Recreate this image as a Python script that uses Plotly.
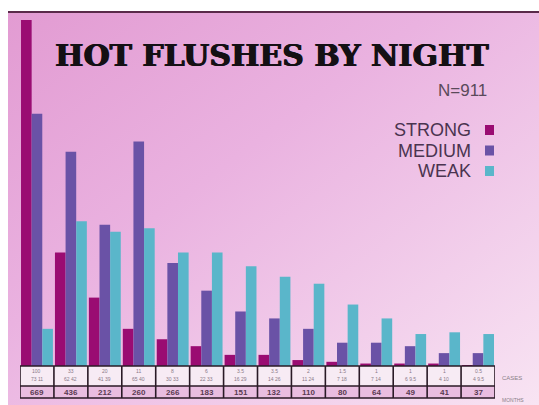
import base64
import plotly.graph_objects as go

# ---- data ----
months = list(range(1, 15))
strong = [100, 33, 20, 11, 8, 6, 3.5, 3.5, 2, 1.5, 1, 1, 1, 0.5]
medium = [73, 62, 41, 65, 30, 22, 16, 14, 11, 7, 7, 6, 4, 4]
weak = [11, 42, 39, 40, 33, 33, 29, 26, 24, 18, 14, 9.5, 10, 9.5]
cases = [669, 436, 212, 260, 266, 183, 151, 132, 110, 80, 64, 49, 41, 37]

C_STRONG = "#9a0c72"
C_MEDIUM = "#6a52a6"
C_WEAK = "#5ab6ca"

W, H = 539, 405
L, R, T, B = 20, 44, 20, 38
PW, PH = W - L - R, H - T - B


def px(x):
    return (x - L) / PW


def py(y):
    return (H - B - y) / PH


fig = go.Figure()
for name, vals, col in [("STRONG", strong, C_STRONG), ("MEDIUM", medium, C_MEDIUM), ("WEAK", weak, C_WEAK)]:
    fig.add_trace(go.Bar(x=months, y=vals, name=name, marker=dict(color=col, line=dict(width=0))))

# background gradient as svg image
svg = '''<svg xmlns="http://www.w3.org/2000/svg" width="531" height="394" viewBox="0 0 531 394" preserveAspectRatio="none">
<defs><linearGradient id="g" x1="0" y1="0" x2="1" y2="1">
<stop offset="0" stop-color="#e29bd2"/><stop offset="0.4" stop-color="#eab2e0"/><stop offset="1" stop-color="#f8e4f3"/>
</linearGradient></defs>
<rect x="0" y="0" width="531" height="394" fill="url(#g)"/>
<rect x="0" y="0" width="531" height="2" fill="#5a2a4a"/>
</svg>'''
src = "data:image/svg+xml;base64," + base64.b64encode(svg.encode()).decode()
fig.add_layout_image(dict(source=src, xref="paper", yref="paper", x=px(8), y=py(11),
                          sizex=(W - 8) / PW, sizey=(H - 11) / PH, sizing="stretch",
                          xanchor="left", yanchor="top", layer="below"))

shapes = []
annotations = []
# table
r1_top, r1_bot, r2_bot = py(366), py(386), py(398)
shapes.append(dict(type="rect", xref="x", yref="paper", x0=0.5, x1=14.5, y0=r1_bot, y1=r1_top,
                   fillcolor="#f7ebf4", line=dict(width=0), layer="above"))
shapes.append(dict(type="rect", xref="x", yref="paper", x0=0.5, x1=14.5, y0=r2_bot, y1=r1_bot,
                   fillcolor="#e9bde0", line=dict(width=0), layer="above"))
for yy in [r1_top, r1_bot, r2_bot]:
    shapes.append(dict(type="line", xref="x", yref="paper", x0=0.5, x1=14.5, y0=yy, y1=yy,
                       line=dict(color="#2a1a26", width=1.6), layer="above"))
for i in range(15):
    xx = 0.5 + i
    shapes.append(dict(type="line", xref="x", yref="paper", x0=xx, x1=xx, y0=r2_bot, y1=r1_top,
                       line=dict(color="#2a1a26", width=1.6), layer="above"))
for m, s, md, wk, c in zip(months, strong, medium, weak, cases):
    annotations.append(dict(x=m, y=py(371), xref="x", yref="paper", text=f"{s:g}", showarrow=False,
                            yanchor="middle",
                            font=dict(size=5, color="#8a7a88", family="Liberation Sans")))
    annotations.append(dict(x=m, y=py(379), xref="x", yref="paper", text=f"{md:g} {wk:g}", showarrow=False,
                            yanchor="middle",
                            font=dict(size=5, color="#8a7a88", family="Liberation Sans")))
    annotations.append(dict(x=m, y=py(392), xref="x", yref="paper", text=f"<b>{c}</b>", showarrow=False,
                            yanchor="middle",
                            font=dict(size=8, color="#5a3a52", family="Liberation Sans")))
annotations.append(dict(x=px(500), y=py(378), xref="paper", yref="paper", text="CASES", showarrow=False,
                        xanchor="left", yanchor="middle",
                        font=dict(size=6, color="#8a8088", family="Liberation Sans")))
annotations.append(dict(x=px(500), y=py(405), xref="paper", yref="paper", text="MONTHS", showarrow=False,
                        xanchor="left", yanchor="bottom",
                        font=dict(size=5, color="#8a8088", family="Liberation Sans")))

# title
annotations.append(dict(x=px(491), y=py(55), xref="paper", yref="paper", text="<b>HOT FLUSHES BY NIGHT</b>",
                        showarrow=False, xanchor="right", yanchor="middle",
                        font=dict(size=30, color="#141014", family="DejaVu Serif",
                                  shadow="0.8px 0 0 #141014, -0.4px 0 0 #141014")))
annotations.append(dict(x=px(489), y=py(90), xref="paper", yref="paper", text="N=911",
                        showarrow=False, xanchor="right", yanchor="middle",
                        font=dict(size=17, color="#5a4a5a", family="Liberation Sans")))
# legend
for i, (name, col) in enumerate([("STRONG", C_STRONG), ("MEDIUM", C_MEDIUM), ("WEAK", C_WEAK)]):
    yc = 130 + i * 20.5
    annotations.append(dict(x=px(473), y=py(yc), xref="paper", yref="paper", text=name,
                            showarrow=False, xanchor="right", yanchor="middle",
                            font=dict(size=18, color="#4a3450", family="Liberation Sans")))
    shapes.append(dict(type="rect", xref="paper", yref="paper", x0=px(485), x1=px(494),
                       y0=py(yc + 5), y1=py(yc - 5), fillcolor=col, line=dict(width=0)))

fig.update_layout(
    width=W, height=H, margin=dict(l=L, r=R, t=T, b=B),
    paper_bgcolor="white", plot_bgcolor="rgba(0,0,0,0)",
    barmode="group", bargap=0.06, bargroupgap=0,
    showlegend=False,
    xaxis=dict(range=[0.5, 14.5], showticklabels=False, showgrid=False, zeroline=False, ticks=""),
    yaxis=dict(range=[0, 100], showticklabels=False, showgrid=False, zeroline=False, ticks=""),
    shapes=shapes, annotations=annotations,
)

fig.write_html("out.html")
